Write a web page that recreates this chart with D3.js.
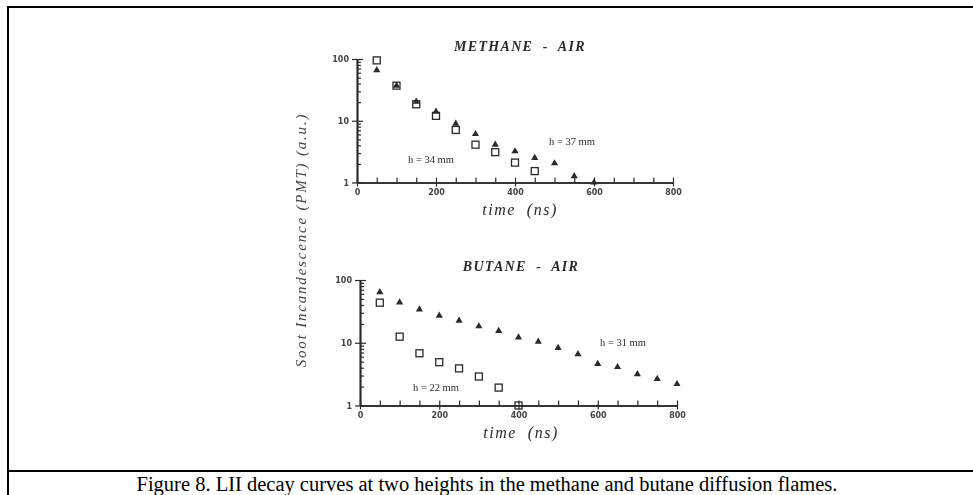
<!DOCTYPE html>
<html>
<head>
<meta charset="utf-8">
<script src="https://cdn.jsdelivr.net/npm/d3@7/dist/d3.min.js"></script>
<style>
  html, body { margin: 0; padding: 0; background: #fff; }
  svg { display: block; }
</style>
</head>
<body>
<svg id="fig" width="973" height="495"></svg>
<script>
// LII decay signals (a.u.) versus delay time (ns)
const methaneTime34 = [50, 100, 150, 200, 250, 300, 350, 400, 450];
const methaneH34    = [95, 37, 18.5, 12, 7.1, 4.1, 3.1, 2.1, 1.53];
const methaneTime37 = [50, 100, 150, 200, 250, 300, 350, 400, 450, 500, 550, 600];
const methaneH37    = [66, 37, 20.4, 14, 9, 6.1, 4.1, 3.2, 2.5, 2.05, 1.27, 1.0];

const butaneTime22 = [50, 100, 150, 200, 250, 300, 350, 400];
const butaneH22    = [43.5, 12.5, 6.8, 4.9, 3.9, 2.9, 1.93, 1.0];
const butaneTime31 = [50, 100, 150, 200, 250, 300, 350, 400, 450, 500, 550, 600, 650, 700, 750, 800];
const butaneH31    = [64, 44, 34, 27, 22.5, 18.3, 15.4, 12.2, 10.4, 8.3, 6.6, 4.6, 4.1, 3.15, 2.65, 2.2];

const xMajorTicks = [0, 200, 400, 600, 800];
const xMinorTicks = d3.range(0, 801, 50);
const yMajorTicks = [1, 10, 100];
const yMinorTicks = [2, 3, 4, 5, 6, 7, 8, 9, 20, 30, 40, 50, 60, 70, 80, 90];

const panelTitles = ["METHANE  -  AIR", "BUTANE  -  AIR"];
const yTitle = "Soot Incandescence (PMT) (a.u.)";
const xTitle = "time  (ns)";
const caption = "Figure 8. LII decay curves at two heights in the methane and butane diffusion flames.";

const svg = d3.select("#fig");

// table cell frame with the caption row underneath
const frame = svg.append("g").attr("stroke", "#000").attr("stroke-width", 2);
frame.append("line").attr("x1", 8).attr("x2", 980).attr("y1", 7).attr("y2", 7);
frame.append("line").attr("x1", 8).attr("x2", 8).attr("y1", 6).attr("y2", 500);
frame.append("line").attr("x1", 8).attr("x2", 980).attr("y1", 471).attr("y2", 471);

svg.append("text")
  .attr("x", 487).attr("y", 491)
  .attr("text-anchor", "middle")
  .attr("font-family", "'Liberation Serif', 'Times New Roman', serif")
  .attr("font-size", 20.5)
  .attr("fill", "#000")
  .text(caption);

// scanned plot area is slightly soft
const defs = svg.append("defs");
defs.append("filter").attr("id", "soft")
  .append("feGaussianBlur").attr("stdDeviation", 0.55);

const plot = svg.append("g").attr("filter", "url(#soft)");
const ink = "#2a2a2a";

plot.append("text")
  .attr("transform", "translate(306,240) rotate(-90)")
  .attr("text-anchor", "middle")
  .attr("font-family", "'Liberation Serif', serif")
  .attr("font-style", "italic")
  .attr("font-size", 15)
  .attr("letter-spacing", 1.8)
  .attr("fill", "#444")
  .text(yTitle);

function panel(cfg) {
  const x = d3.scaleLinear().domain([0, 800]).range(cfg.xr);
  const y = d3.scaleLog().domain([1, 100]).range(cfg.yr);
  const g = plot.append("g");

  // x axis: major ticks with labels, minor ticks pointing up
  g.append("g").attr("transform", `translate(0,${cfg.yr[0]})`)
    .call(d3.axisBottom(x).tickValues(xMajorTicks).tickSizeInner(4).tickSizeOuter(0).tickPadding(3));
  g.append("g").attr("transform", `translate(0,${cfg.yr[0]})`)
    .call(d3.axisBottom(x).tickValues(xMinorTicks).tickSizeInner(-5).tickSizeOuter(0).tickFormat(""));

  // y axis: decades labelled, minor ticks pointing right
  g.append("g").attr("transform", `translate(${cfg.xr[0]},0)`)
    .call(d3.axisLeft(y).tickValues(yMajorTicks).tickSizeInner(5).tickSizeOuter(0).tickPadding(3).tickFormat(d3.format("d")));
  g.append("g").attr("transform", `translate(${cfg.xr[0]},0)`)
    .call(d3.axisLeft(y).tickValues(yMinorTicks).tickSizeInner(-4).tickSizeOuter(0).tickFormat(""));
  g.append("g").attr("transform", `translate(${cfg.xr[0]},0)`)
    .call(d3.axisLeft(y).tickValues(yMajorTicks).tickSizeInner(-6).tickSizeOuter(0).tickFormat(""));

  g.selectAll(".domain").attr("stroke", ink).attr("stroke-width", 1.5);
  g.selectAll(".tick line").attr("stroke", ink).attr("stroke-width", 1.2);
  g.selectAll(".tick text")
    .attr("font-family", "'DejaVu Sans', sans-serif")
    .attr("font-size", 8).attr("font-weight", "bold")
    .attr("fill", "#444");

  // series: open squares and filled triangles
  const sq = 7;
  g.append("g").selectAll("rect")
    .data(cfg.sqT.map((t, i) => [t, cfg.sqV[i]]))
    .join("rect")
    .attr("x", d => x(d[0]) - sq / 2).attr("y", d => y(d[1]) - sq / 2)
    .attr("width", sq).attr("height", sq)
    .attr("fill", "none").attr("stroke", ink).attr("stroke-width", 1.3);

  const tri = d3.symbol().type(d3.symbolTriangle).size(22);
  g.append("g").selectAll("path")
    .data(cfg.trT.map((t, i) => [t, cfg.trV[i]]))
    .join("path")
    .attr("transform", d => `translate(${x(d[0])},${y(d[1])})`)
    .attr("d", tri)
    .attr("fill", ink);

  // titles and height labels
  g.append("text")
    .attr("x", cfg.titleX).attr("y", cfg.titleY)
    .attr("text-anchor", "middle")
    .attr("font-family", "'Liberation Serif', serif")
    .attr("font-style", "italic").attr("font-weight", "bold")
    .attr("font-size", 14).attr("letter-spacing", 1.3)
    .attr("fill", ink)
    .style("white-space", "pre")
    .text(cfg.title);

  g.append("text")
    .attr("x", cfg.xtX).attr("y", cfg.xtY)
    .attr("text-anchor", "middle")
    .attr("font-family", "'Liberation Serif', serif")
    .attr("font-style", "italic")
    .attr("font-size", 16).attr("letter-spacing", 1.5)
    .attr("fill", ink)
    .style("white-space", "pre")
    .text(xTitle);

  cfg.labels.forEach(l => {
    g.append("text")
      .attr("x", l.x).attr("y", l.y)
      .attr("font-family", "'Liberation Serif', serif")
      .attr("font-size", 10.5)
      .attr("fill", ink)
      .text(l.text);
  });
}

panel({
  xr: [357, 673], yr: [182.5, 59],
  sqT: methaneTime34, sqV: methaneH34, trT: methaneTime37, trV: methaneH37,
  title: panelTitles[0], titleX: 520, titleY: 51,
  xtX: 520, xtY: 215,
  labels: [{ x: 408, y: 163, text: "h = 34 mm" }, { x: 549, y: 145, text: "h = 37 mm" }]
});

panel({
  xr: [360, 677], yr: [405.5, 280],
  sqT: butaneTime22, sqV: butaneH22, trT: butaneTime31, trV: butaneH31,
  title: panelTitles[1], titleX: 521, titleY: 271,
  xtX: 521, xtY: 438,
  labels: [{ x: 413, y: 391, text: "h = 22 mm" }, { x: 600, y: 346, text: "h = 31 mm" }]
});
</script>
</body>
</html>
